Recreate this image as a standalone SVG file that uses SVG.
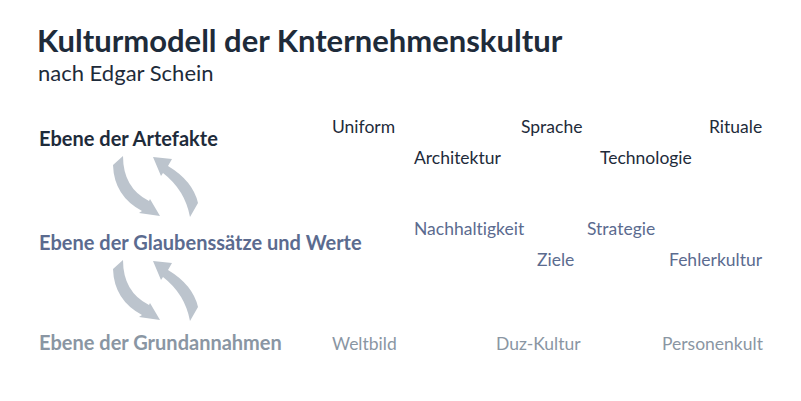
<svg xmlns="http://www.w3.org/2000/svg" width="801" height="401" viewBox="0 0 801 401">
<style>
text{font-family:Lato,"Noto Sans","Liberation Sans",sans-serif;font-variant-ligatures:none}
.title{font-size:31px;font-weight:700;fill:#1e2b3a}
.sub{font-size:22px;fill:#1e2b3a}
.lvl{font-size:20px;font-weight:700}
.item{font-size:17.5px}
.c1{fill:#1e2b3a}
.c2{fill:#5b6b8f}
.c3{fill:#8a96a3}
.arrow{fill:#bcc4cd}
</style>
<rect width="801" height="401" fill="#ffffff"/>
<text class="title" x="37" y="52">Kulturmodell der Knternehmenskultur</text>
<text class="sub" x="38" y="81">nach Edgar Schein</text>

<g id="level1">
<text class="lvl c1" x="39" y="146">Ebene der Artefakte</text>
</g>
<g id="level2">
<text class="lvl c2" x="39" y="250">Ebene der Glaubenssätze und Werte</text>
</g>
<g id="level3">
<text class="lvl c3" x="39" y="350">Ebene der Grundannahmen</text>
</g>

<g id="items1" class="item c1">
<text x="332" y="133">Uniform</text>
<text x="521" y="133">Sprache</text>
<text x="709" y="133">Rituale</text>
<text x="414" y="164">Architektur</text>
<text x="600" y="164">Technologie</text>
</g>
<g id="items2" class="item c2">
<text x="414" y="235">Nachhaltigkeit</text>
<text x="587" y="235">Strategie</text>
<text x="537" y="266">Ziele</text>
<text x="669" y="266">Fehlerkultur</text>
</g>
<g id="items3" class="item c3">
<text x="332" y="350">Weltbild</text>
<text x="496" y="350">Duz-Kultur</text>
<text x="662" y="350">Personenkult</text>
</g>

<defs>
<g id="pair">
<path class="arrow" d="M113,165 L123,156 Q123,188 149,201 L150,199 L160,216 L139,213 L142,211 Q114,196 113,165 Z"/>
<path class="arrow" d="M153,157 L172,159 L168,166 Q193,181 198,203 L190,217 Q185,190 163,173 L161,176 Z"/>
</g>
</defs>
<g id="connectors">
<use href="#pair"/>
<use href="#pair" transform="translate(0,104)"/>
</g>
</svg>
